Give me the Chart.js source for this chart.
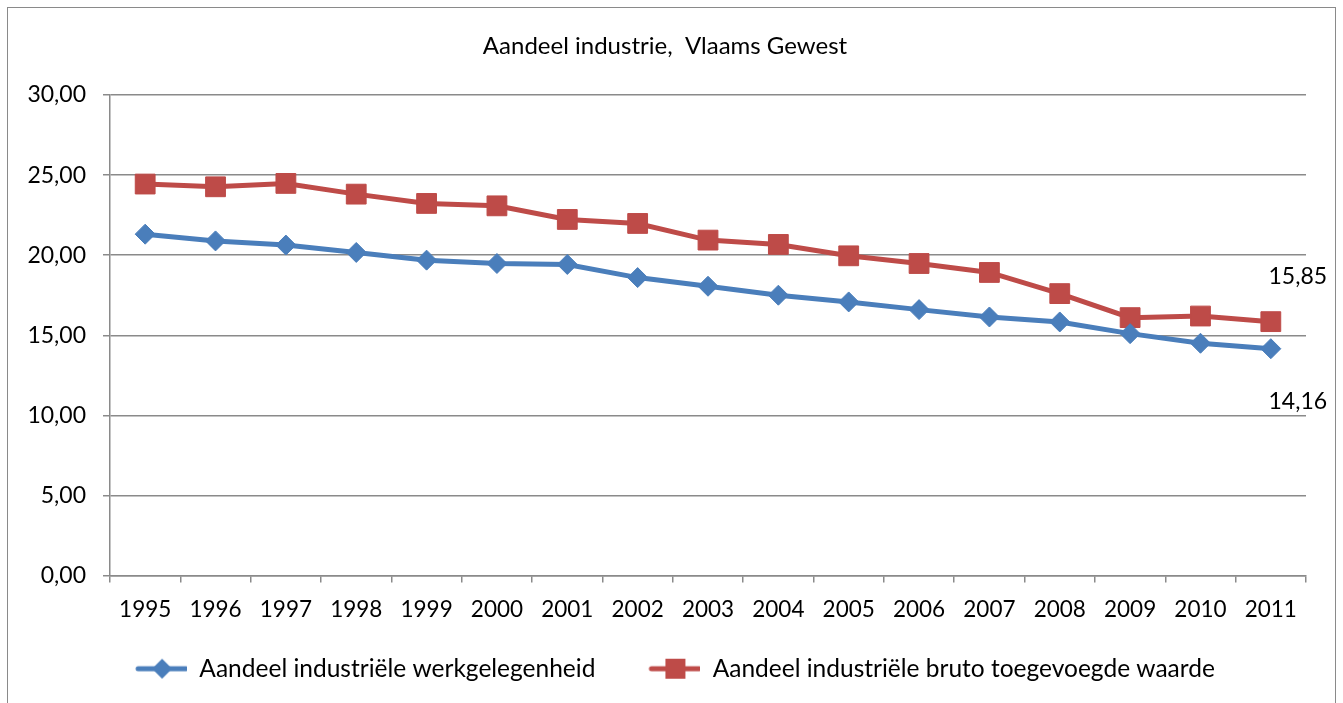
<!DOCTYPE html>
<html>
<head>
<meta charset="utf-8">
<script src="https://cdn.jsdelivr.net/npm/chart.js@4"></script>
<style>
  html, body { margin:0; padding:0; background:#fff; overflow:hidden; }
  #frame { position:absolute; left:7px; top:7px; width:1327px; height:760px;
           border:1px solid #8a8a8a; border-bottom:none; }
  #wrap { position:absolute; left:0; top:0; width:1343px; height:703px; }
</style>
</head>
<body>
<div id="frame"></div>
<div id="wrap"><canvas id="lineChart" width="1343" height="703"></canvas></div>
<script>
/* Aandeel industrie, Vlaams Gewest */
const years = ["1995","1996","1997","1998","1999","2000","2001","2002","2003",
               "2004","2005","2006","2007","2008","2009","2010","2011"];
const werkgelegenheid = [21.31,20.89,20.63,20.17,19.69,19.48,19.42,18.60,18.06,
                         17.50,17.08,16.60,16.14,15.83,15.10,14.50,14.16];
const toegevoegdeWaarde = [24.44,24.27,24.48,23.81,23.23,23.08,22.23,21.98,20.94,
                           20.67,19.96,19.48,18.92,17.60,16.10,16.20,15.85];
const seriesNames = ["Aandeel industriële werkgelegenheid",
                     "Aandeel industriële bruto toegevoegde waarde"];
const titleText = "Aandeel industrie,  Vlaams Gewest";

const FONT = "Lato";
const BLUE = "#4a7ebb";
const RED = "#be4b48";
const GRID = "#8a8a8a";
const GAP = 20; // extra room left of each legend symbol

const fmt = v => Number(v).toFixed(2).replace(".", ",");

// legend symbol: line with marker in the middle
function legendIcon(color, shape){
  const c = document.createElement("canvas");
  c.width = GAP + 52; c.height = 22;
  const g = c.getContext("2d");
  const x0 = GAP, mid = GAP + 27;
  g.strokeStyle = color; g.lineWidth = 5; g.lineCap = "round";
  g.beginPath(); g.moveTo(x0 + 3, 11); g.lineTo(x0 + 51, 11); g.stroke();
  g.fillStyle = color;
  if (shape === "diamond"){
    g.beginPath(); g.moveTo(mid, 1); g.lineTo(mid + 10, 11); g.lineTo(mid, 21); g.lineTo(mid - 10, 11); g.closePath(); g.fill();
  } else {
    g.fillRect(mid - 10, 1, 20, 20);
  }
  return c;
}
const icons = [legendIcon(BLUE, "diamond"), legendIcon(RED, "square")];

// end-value labels next to the last points
const endLabels = {
  id: "endLabels",
  afterDatasetsDraw(chart){
    const ctx = chart.ctx;
    ctx.save();
    ctx.font = "23px " + FONT;
    ctx.fillStyle = "#000";
    ctx.textAlign = "center";
    ctx.textBaseline = "middle";
    chart.data.datasets.forEach((ds, i) => {
      const meta = chart.getDatasetMeta(i);
      const last = meta.data[meta.data.length - 1];
      const dy = i === 0 ? 53 : -45;
      ctx.fillText(fmt(ds.data[ds.data.length - 1]), last.x + 27, last.y + dy);
    });
    ctx.restore();
  }
};

new Chart(document.getElementById("lineChart").getContext("2d"), {
  type: "line",
  data: {
    labels: years,
    datasets: [
      { label: seriesNames[0], data: werkgelegenheid, borderColor: BLUE, backgroundColor: BLUE,
        borderWidth: 5, pointStyle: "rectRot", pointRadius: 10, pointHoverRadius: 10,
        pointBorderWidth: 1, pointBackgroundColor: BLUE, pointBorderColor: BLUE, tension: 0 },
      { label: seriesNames[1], data: toegevoegdeWaarde, borderColor: RED, backgroundColor: RED,
        borderWidth: 5, pointStyle: "rect", pointRadius: 14, pointHoverRadius: 14,
        pointBorderWidth: 1, pointBackgroundColor: RED, pointBorderColor: RED, tension: 0 }
    ]
  },
  options: {
    responsive: false,
    animation: false,
    layout: { padding: { left: 24, right: 37, top: 0, bottom: 12 } },
    plugins: {
      title: {
        display: true, text: titleText, color: "#000",
        font: { family: FONT, size: 24, weight: "normal", lineHeight: 1.2 },
        padding: { top: 31.6, bottom: 34.6 }
      },
      legend: {
        position: "bottom",
        labels: {
          color: "#000",
          font: { family: FONT, size: 24.5 },
          usePointStyle: true,
          pointStyleWidth: GAP + 52,
          padding: 33,
          generateLabels: (chart) => chart.data.datasets.map((ds, i) => ({
            text: ds.label, pointStyle: icons[i], datasetIndex: i,
            fillStyle: ds.borderColor, strokeStyle: ds.borderColor, lineWidth: 0, hidden: false
          }))
        }
      },
      tooltip: { enabled: false }
    },
    scales: {
      x: {
        offset: true,
        grid: { offset: true, drawOnChartArea: false, drawTicks: true, tickLength: 7,
                color: GRID, lineWidth: 1.5 },
        border: { color: GRID, width: 1.5 },
        ticks: { color: "#000", font: { family: FONT, size: 22.5 }, padding: 14,
                 maxRotation: 0, autoSkip: false },
        afterFit: (s) => { s.height = 48; }
      },
      y: {
        min: 0, max: 30,
        grid: { color: GRID, lineWidth: 1.5, tickLength: 7 },
        border: { color: GRID, width: 1.5 },
        ticks: { stepSize: 5, color: "#000", font: { family: FONT, size: 23 }, padding: 17,
                 callback: (v) => fmt(v) },
        afterFit: (s) => { s.width = 86; }
      }
    }
  },
  plugins: [endLabels]
});
</script>
</body>
</html>
